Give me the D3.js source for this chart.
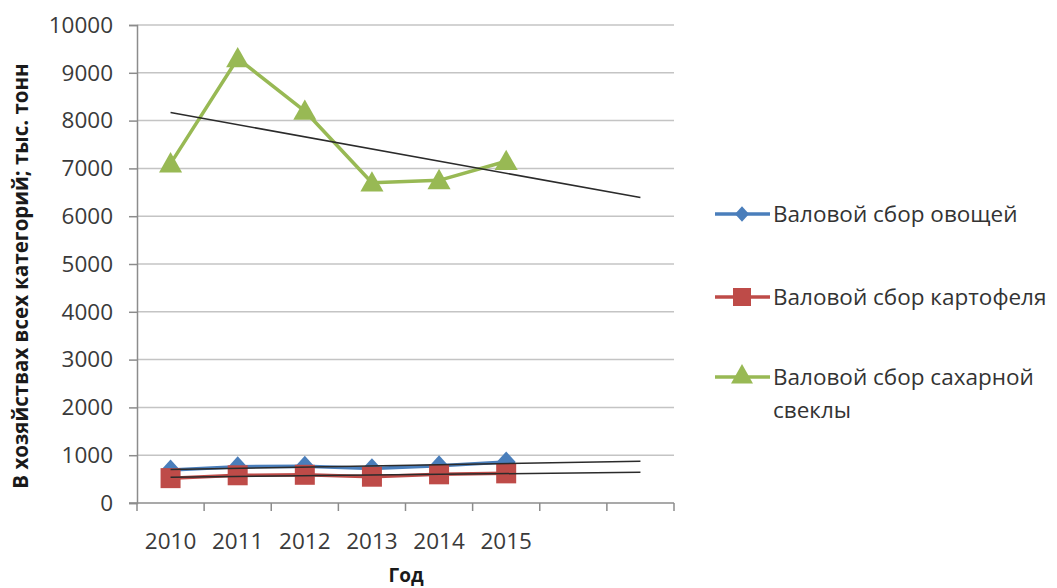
<!DOCTYPE html>
<html>
<head>
<meta charset="utf-8">
<script src="https://cdn.jsdelivr.net/npm/d3@7"></script>
<style>
  body { margin: 0; background: #fff; }
  svg { font-family: "Open Sans", "Liberation Sans", sans-serif; }
</style>
</head>
<body>
<svg id="chart" width="1057" height="588"></svg>
<script>
// categories (two empty slots hold the trendline forecast)
const years = ['2010', '2011', '2012', '2013', '2014', '2015', '', ''];
const vegetables = [690, 760, 770, 720, 780, 860];
const potatoes = [520, 580, 590, 550, 600, 620];
const sugarBeet = [7100, 9300, 8200, 6700, 6750, 7150];
const yTicks = [0, 1000, 2000, 3000, 4000, 5000, 6000, 7000, 8000, 9000, 10000];
const seriesNames = ['Валовой сбор овощей', 'Валовой сбор картофеля', 'Валовой сбор сахарной свеклы'];

const series = [
  { name: seriesNames[0], values: vegetables, color: '#4a7ebb', marker: 'diamond' },
  { name: seriesNames[1], values: potatoes, color: '#be4b48', marker: 'square' },
  { name: seriesNames[2], values: sugarBeet, color: '#98b954', marker: 'triangle' }
];

const margin = { top: 25, left: 137, right: 383, bottom: 85 };
const width = 1057, height = 588;

const svg = d3.select('#chart');

const x = d3.scaleBand()
  .domain(d3.range(years.length))
  .range([margin.left, width - margin.right])
  .paddingInner(0).paddingOuter(0);

const y = d3.scaleLinear()
  .domain([0, 10000])
  .range([height - margin.bottom, margin.top]);

const cx = i => x(i) + x.bandwidth() / 2;

// grid lines
svg.append('g')
  .selectAll('line')
  .data(yTicks.filter(d => d > 0))
  .join('line')
  .attr('x1', margin.left)
  .attr('x2', width - margin.right)
  .attr('y1', d => y(d))
  .attr('y2', d => y(d))
  .attr('stroke', '#c4c4c4')
  .attr('stroke-width', 1.5);

// y axis
const yAxis = svg.append('g')
  .attr('transform', `translate(${margin.left},0)`)
  .call(d3.axisLeft(y).tickValues(yTicks).tickSize(8).tickPadding(16).tickFormat(d3.format('d')));
yAxis.select('.domain').attr('stroke', '#8c8c8c').attr('stroke-width', 1.5);
yAxis.selectAll('.tick line').attr('stroke', '#8c8c8c').attr('stroke-width', 1.5);
yAxis.selectAll('text')
  .attr('font-size', 22.5)
  .attr('fill', '#3a3a3a')
  .attr('font-family', '"Open Sans", sans-serif');

// x axis: ticks at category boundaries
const xAxisG = svg.append('g');
xAxisG.append('line')
  .attr('x1', margin.left - 8)
  .attr('x2', width - margin.right)
  .attr('y1', y(0)).attr('y2', y(0))
  .attr('stroke', '#8c8c8c').attr('stroke-width', 1.5);
xAxisG.selectAll('.xtick')
  .data(d3.range(years.length + 1))
  .join('line')
  .attr('class', 'xtick')
  .attr('x1', i => i < years.length ? x(i) : x(years.length - 1) + x.bandwidth())
  .attr('x2', i => i < years.length ? x(i) : x(years.length - 1) + x.bandwidth())
  .attr('y1', y(0)).attr('y2', y(0) + 8)
  .attr('stroke', '#8c8c8c').attr('stroke-width', 1.5);
xAxisG.selectAll('.xlabel')
  .data(years)
  .join('text')
  .attr('class', 'xlabel')
  .attr('x', (d, i) => cx(i))
  .attr('y', y(0) + 46)
  .attr('text-anchor', 'middle')
  .attr('font-size', 22.5)
  .attr('fill', '#3a3a3a')
  .text(d => d);

// axis titles
svg.append('text')
  .attr('x', 406)
  .attr('y', 582)
  .attr('text-anchor', 'middle')
  .attr('font-size', 19)
  .attr('font-weight', 'bold')
  .attr('fill', '#1a1a1a')
  .text('Год');

svg.append('text')
  .attr('transform', `translate(28,${(y(0) + y(10000)) / 2 + 12}) rotate(-90)`)
  .attr('text-anchor', 'middle')
  .attr('font-size', 20.5)
  .attr('font-weight', 'bold')
  .attr('fill', '#1a1a1a')
  .text('В хозяйствах всех категорий; тыс. тонн');

// markers
function markerPath(type, s) {
  if (type === 'diamond') return `M0,${-s * 0.55}L${s * 0.5},0L0,${s * 0.55}L${-s * 0.5},0Z`;
  if (type === 'square') return `M${-s / 2},${-s / 2}h${s}v${s}h${-s}Z`;
  return `M0,${-s * 0.55}L${s * 0.55},${s * 0.42}L${-s * 0.55},${s * 0.42}Z`;
}
const markerSize = { diamond: 19, square: 20, triangle: 21 };

const line = d3.line()
  .x((d, i) => cx(i))
  .y(d => y(d));

series.forEach(s => {
  const g = svg.append('g');
  g.append('path')
    .datum(s.values)
    .attr('d', line)
    .attr('fill', 'none')
    .attr('stroke', s.color)
    .attr('stroke-width', 3.5)
    .attr('stroke-linejoin', 'round');
  g.selectAll('path.mk')
    .data(s.values)
    .join('path')
    .attr('class', 'mk')
    .attr('transform', (d, i) => `translate(${cx(i)},${y(d)})`)
    .attr('d', markerPath(s.marker, markerSize[s.marker]))
    .attr('fill', s.color);
});

// linear trendlines, forecast two periods forward
series.forEach(s => {
  const n = s.values.length;
  const xs = d3.range(n);
  const mx = d3.mean(xs), my = d3.mean(s.values);
  const slope = d3.sum(xs, i => (i - mx) * (s.values[i] - my)) / d3.sum(xs, i => (i - mx) ** 2);
  const b = my - slope * mx;
  const last = years.length - 1;
  svg.append('line')
    .attr('x1', cx(0)).attr('y1', y(b))
    .attr('x2', cx(last)).attr('y2', y(b + slope * last))
    .attr('stroke', '#2b2b2b')
    .attr('stroke-width', 1.5);
});

// legend
const legendY = [214, 297, 377];
const legend = svg.append('g');
series.forEach((s, i) => {
  const g = legend.append('g').attr('transform', `translate(715,${legendY[i]})`);
  g.append('line')
    .attr('x1', 0).attr('x2', 55)
    .attr('stroke', s.color).attr('stroke-width', 3.5);
  const ms = { diamond: 14, square: 18, triangle: 20 }[s.marker];
  g.append('path')
    .attr('transform', `translate(27,${s.marker === 'triangle' ? -2 : 0})`)
    .attr('d', markerPath(s.marker, ms))
    .attr('fill', s.color);
  const words = s.marker === 'triangle' ? ['Валовой сбор сахарной', 'свеклы'] : [s.name];
  const t = g.append('text')
    .attr('x', 58)
    .attr('y', 8)
    .attr('font-size', 22.5)
    .attr('fill', '#333');
  words.forEach((w, k) => {
    t.append('tspan').attr('x', 58).attr('dy', k === 0 ? 0 : 33).text(w);
  });
});
</script>
</body>
</html>
